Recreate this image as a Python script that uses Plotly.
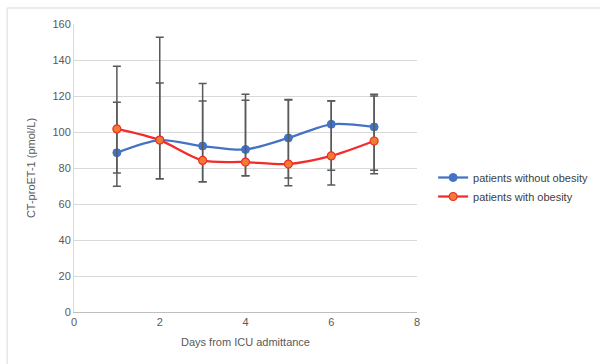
import plotly.graph_objects as go

days = [1, 2, 3, 4, 5, 6, 7]
without_obesity = [88.5, 95.5, 92.2, 90.3, 96.7, 104.3, 102.8]
without_upper = [116.5, 152.6, 126.9, 121.0, 118.0, 117.4, 121.0]
without_lower = [69.8, 74.0, 72.4, 75.7, 70.2, 78.7, 78.7]
with_obesity = [101.7, 95.5, 84.2, 83.3, 82.2, 86.7, 95.0]
with_upper = [136.5, 127.2, 117.2, 117.6, 117.8, 117.2, 120.0]
with_lower = [77.2, 74.0, 72.4, 75.7, 74.4, 70.5, 76.8]

y_ticks = [0, 20, 40, 60, 80, 100, 120, 140, 160]
x_ticks = [0, 2, 4, 6, 8]

def err(vals, up, lo):
    return ([u - v for u, v in zip(up, vals)], [v - l for v, l in zip(vals, lo)])

eb_up, eb_lo = err(without_obesity, without_upper, without_lower)
er_up, er_lo = err(with_obesity, with_upper, with_lower)

fig = go.Figure()
fig.add_trace(go.Scatter(
    x=days, y=without_obesity, name="patients without obesity",
    mode="lines+markers",
    line=dict(color="#4472C4", width=2.25, shape="spline", smoothing=0.8),
    marker=dict(size=8, color="#4472C4", line=dict(color="#4472C4", width=1)),
    error_y=dict(type="data", symmetric=False, array=eb_up, arrayminus=eb_lo,
                 color="#595959", thickness=1.5, width=4),
))
fig.add_trace(go.Scatter(
    x=days, y=with_obesity, name="patients with obesity",
    mode="lines+markers",
    line=dict(color="#F22B2B", width=2.25, shape="spline", smoothing=0.8),
    marker=dict(size=8, color="#ED7D31", line=dict(color="#F22B2B", width=1.2)),
    error_y=dict(type="data", symmetric=False, array=er_up, arrayminus=er_lo,
                 color="#595959", thickness=1.5, width=4),
))

fig.update_layout(
    width=600, height=364,
    margin=dict(l=74, r=183, t=24, b=52, autoexpand=False),
    paper_bgcolor="white", plot_bgcolor="white",
    font=dict(family="Liberation Sans, Arial, sans-serif", size=11, color="#595959"),
    legend=dict(x=1.047, y=0.434, xanchor="left", yanchor="middle",
                font=dict(size=11, color="#404040"), tracegroupgap=4,
                itemwidth=30, bgcolor="rgba(0,0,0,0)"),
    showlegend=True,
    shapes=[dict(type="rect", xref="paper", yref="paper",
                 x0=-0.195, x1=1.6, y0=-0.3, y1=1.0556,
                 line=dict(color="#D9D9D9", width=1), fillcolor="rgba(0,0,0,0)",
                 layer="below")],
)
fig.update_xaxes(range=[0, 8], tickvals=x_ticks, showgrid=False,
                 showline=True, linecolor="#BFBFBF", linewidth=1,
                 ticks="", zeroline=False,
                 title=dict(text="Days from ICU admittance", font=dict(size=11, color="#595959"), standoff=11),
                 tickfont=dict(size=11, color="#595959"))
fig.update_yaxes(range=[0, 160], tickvals=y_ticks, showgrid=True,
                 gridcolor="#D9D9D9", gridwidth=1,
                 showline=True, linecolor="#D9D9D9", linewidth=1,
                 ticks="", zeroline=False,
                 title=dict(text="CT-proET-1 (pmol/L)", font=dict(size=11, color="#595959"), standoff=14),
                 tickfont=dict(size=11, color="#595959"))

fig.write_html("out.html")
